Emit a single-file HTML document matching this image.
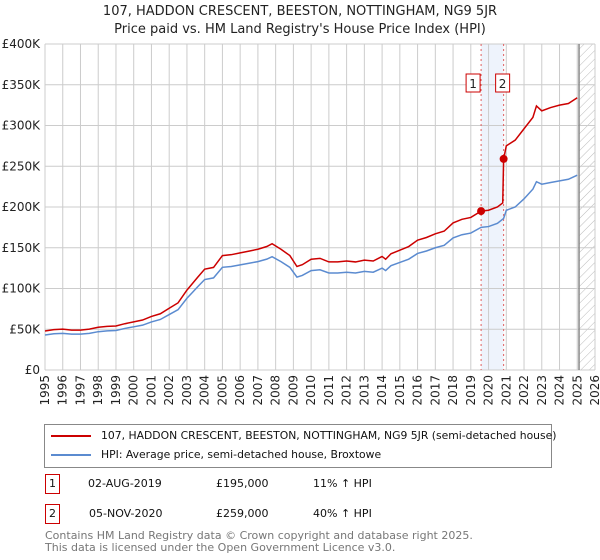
<!DOCTYPE html>
<html><head><meta charset="utf-8"><style>
body{margin:0;background:#fff;font-family:"DejaVu Sans","Liberation Sans",sans-serif;}
#wrap{position:relative;width:600px;height:560px;overflow:hidden}
svg text{font-family:"DejaVu Sans","Liberation Sans",sans-serif}
</style></head><body><div id="wrap">
<svg id="chart" width="600" height="560">
<defs><pattern id="hatch" width="6" height="6" patternUnits="userSpaceOnUse" patternTransform="rotate(45)"><line x1="0" y1="0" x2="0" y2="6" stroke="#bbb" stroke-width="1"/></pattern></defs>
<text x="300" y="15" text-anchor="middle" font-size="13" fill="#222">107, HADDON CRESCENT, BEESTON, NOTTINGHAM, NG9 5JR</text>
<text x="300" y="33" text-anchor="middle" font-size="13" fill="#222">Price paid vs. HM Land Registry's House Price Index (HPI)</text>
<g id="grid"></g><g id="series"></g>
</svg>
<div style="position:absolute;left:44px;top:424px;width:506px;height:42px;border:1px solid #888;font-size:10.8px;color:#111;white-space:nowrap">
 <div style="position:absolute;left:6px;top:10px;width:40px;height:2px;background:#cc0000"></div>
 <div style="position:absolute;left:56px;top:4px">107, HADDON CRESCENT, BEESTON, NOTTINGHAM, NG9 5JR (semi-detached house)</div>
 <div style="position:absolute;left:6px;top:29px;width:40px;height:2px;background:#5b8bd0"></div>
 <div style="position:absolute;left:56px;top:23px">HPI: Average price, semi-detached house, Broxtowe</div>
</div>
<div style="font-size:11px;color:#111;white-space:nowrap">
 <div style="position:absolute;left:45px;top:474px;width:13px;height:18px;border:1px solid #cc0000;text-align:center;line-height:18px">1</div>
 <div style="position:absolute;left:88px;top:477px">02-AUG-2019</div>
 <div style="position:absolute;left:216px;top:477px">£195,000</div>
 <div style="position:absolute;left:313px;top:477px">11% ↑ HPI</div>
 <div style="position:absolute;left:45px;top:504px;width:13px;height:18px;border:1px solid #cc0000;text-align:center;line-height:18px">2</div>
 <div style="position:absolute;left:89px;top:507px">05-NOV-2020</div>
 <div style="position:absolute;left:216px;top:507px">£259,000</div>
 <div style="position:absolute;left:313px;top:507px">40% ↑ HPI</div>
</div>
<div style="position:absolute;left:45px;top:530px;font-size:11px;color:#777;line-height:12px;white-space:nowrap">Contains HM Land Registry data © Crown copyright and database right 2025.<br>This data is licensed under the Open Government Licence v3.0.</div>
</div>
<script>
const hpiYears=[1995,1995.5,1996,1996.5,1997,1997.5,1998,1998.5,1999,1999.5,2000,2000.5,2001,2001.5,2002,2002.5,2003,2003.3,2003.6,2004,2004.5,2005,2005.5,2006,2006.5,2007,2007.5,2007.8,2008.3,2008.8,2009.2,2009.5,2010,2010.5,2011,2011.5,2012,2012.5,2013,2013.5,2014,2014.2,2014.5,2015,2015.5,2016,2016.5,2017,2017.5,2018,2018.5,2019,2019.58,2020,2020.5,2020.85,2021,2021.5,2022,2022.5,2022.7,2023,2023.5,2024,2024.5,2025];
const hpiValues=[43,44.5,45,44,44,45,47,48,48.5,51,53,55,59,62,68,74,88,95,102,111,113,126,127,129,131,133,136,139,133,126,114,116,122,123,119,119,120,119,121,120,125,122,128,132,136,143,146,150,153,162,166,168,175,176,180,186,196,200,210,222,231,228,230,232,234,239];
const redYears=[1995,1995.5,1996,1996.5,1997,1997.5,1998,1998.5,1999,1999.5,2000,2000.5,2001,2001.5,2002,2002.5,2003,2003.3,2003.6,2004,2004.5,2005,2005.5,2006,2006.5,2007,2007.5,2007.8,2008.3,2008.8,2009.2,2009.5,2010,2010.5,2011,2011.5,2012,2012.5,2013,2013.5,2014,2014.2,2014.5,2015,2015.5,2016,2016.5,2017,2017.5,2018,2018.5,2019,2019.58,2020,2020.5,2020.8,2020.85,2021,2021.5,2022,2022.5,2022.7,2023,2023.5,2024,2024.5,2025];
const redValues=[47.9,49.6,50.1,49,49,50.1,52.4,53.5,54,56.8,59,61.3,65.7,69,75.8,82.4,98,105.8,113.6,123.7,125.9,140.4,141.5,143.7,145.9,148.2,151.5,154.9,148.2,140.4,127,129.2,135.9,137,132.6,132.6,133.7,132.6,134.8,133.7,139.3,135.9,142.6,147,151.5,159.3,162.6,167.1,170.4,180.5,184.9,187.2,195,196,200,205,259,275,282,296,310,324,318,322,325,327,334];
const saleYears=[2019.58,2020.85];
const saleValues=[195,259];
const saleLabels=["1","2"];
const yTicks=[0,50,100,150,200,250,300,350,400];
const yTickLabels=["£0","£50K","£100K","£150K","£200K","£250K","£300K","£350K","£400K"];
const xTicks=[1995,1996,1997,1998,1999,2000,2001,2002,2003,2004,2005,2006,2007,2008,2009,2010,2011,2012,2013,2014,2015,2016,2017,2018,2019,2020,2021,2022,2023,2024,2025,2026];
const X0=45,X1=595,Y0=370,Y1=44;
const xs=y=>X0+(y-1995)/(2026-1995)*(X1-X0);
const ys=v=>Y0-v/400*(Y0-Y1);
const NS="http://www.w3.org/2000/svg";
const grid=document.getElementById('grid'),ser=document.getElementById('series');
function mk(tag,attrs,parent){const e=document.createElementNS(NS,tag);for(const k in attrs)e.setAttribute(k,attrs[k]);parent.appendChild(e);return e;}
let band=mk('rect',{x:xs(saleYears[0]),y:Y1,width:xs(saleYears[1])-xs(saleYears[0]),height:Y0-Y1,fill:'#eef3fc'},grid);


let hat=mk('rect',{x:xs(2025.1),y:Y1,width:X1-xs(2025.1),height:Y0-Y1,fill:'url(#hatch)'},grid);


yTicks.forEach((t,i)=>{
 let l=mk('line',{x1:X0,x2:X1,y1:ys(t),y2:ys(t),stroke:'#ccc'},grid);
 
 
 let tx=mk('text',{x:X0-5,y:ys(t)+4,'text-anchor':'end','font-size':12,fill:'#222'},grid);
 tx.textContent=yTickLabels[i];
 
 
});
xTicks.forEach(t=>{
 let l=mk('line',{x1:xs(t),x2:xs(t),y1:Y1,y2:Y0,stroke:'#ccc'},grid);
 
 
 let tx=mk('text',{x:0,y:0,'text-anchor':'end','font-size':12,fill:'#222',transform:`translate(${xs(t)+4},${Y0+5}) rotate(-90)`},grid);
 tx.textContent=t;
 
 
});
let nl=mk('line',{x1:xs(2025.1),x2:xs(2025.1),y1:Y1,y2:Y0,stroke:'#888','stroke-width':1.5},grid);


saleYears.forEach((y,i)=>{
 let l=mk('line',{x1:xs(y),x2:xs(y),y1:Y1,y2:Y0,stroke:'#e06060','stroke-dasharray':'2,3'},grid);
 
 
 let bx=xs(y)+(i==0?-10:-3);
 let r=mk('rect',{x:bx-5,y:74,width:14,height:18,fill:'#fff',stroke:'#cc0000'},grid);
 
 
 let t=mk('text',{x:bx+2,y:88,'text-anchor':'middle','font-size':12,fill:'#222'},grid);
 t.textContent=saleLabels[i];
 
 
});
let hp=mk('polyline',{points:hpiYears.map((y,i)=>xs(y)+','+ys(hpiValues[i])).join(' '),fill:'none',stroke:'#5b8bd0','stroke-width':1.5},ser);


let rp=mk('polyline',{points:redYears.map((y,i)=>xs(y)+','+ys(redValues[i])).join(' '),fill:'none',stroke:'#cc0000','stroke-width':1.5},ser);


saleYears.forEach((y,i)=>{
 let c=mk('circle',{cx:xs(y),cy:ys(saleValues[i]),r:4,fill:'#cc0000'},ser);
 
 
});
</script>
</body></html>
